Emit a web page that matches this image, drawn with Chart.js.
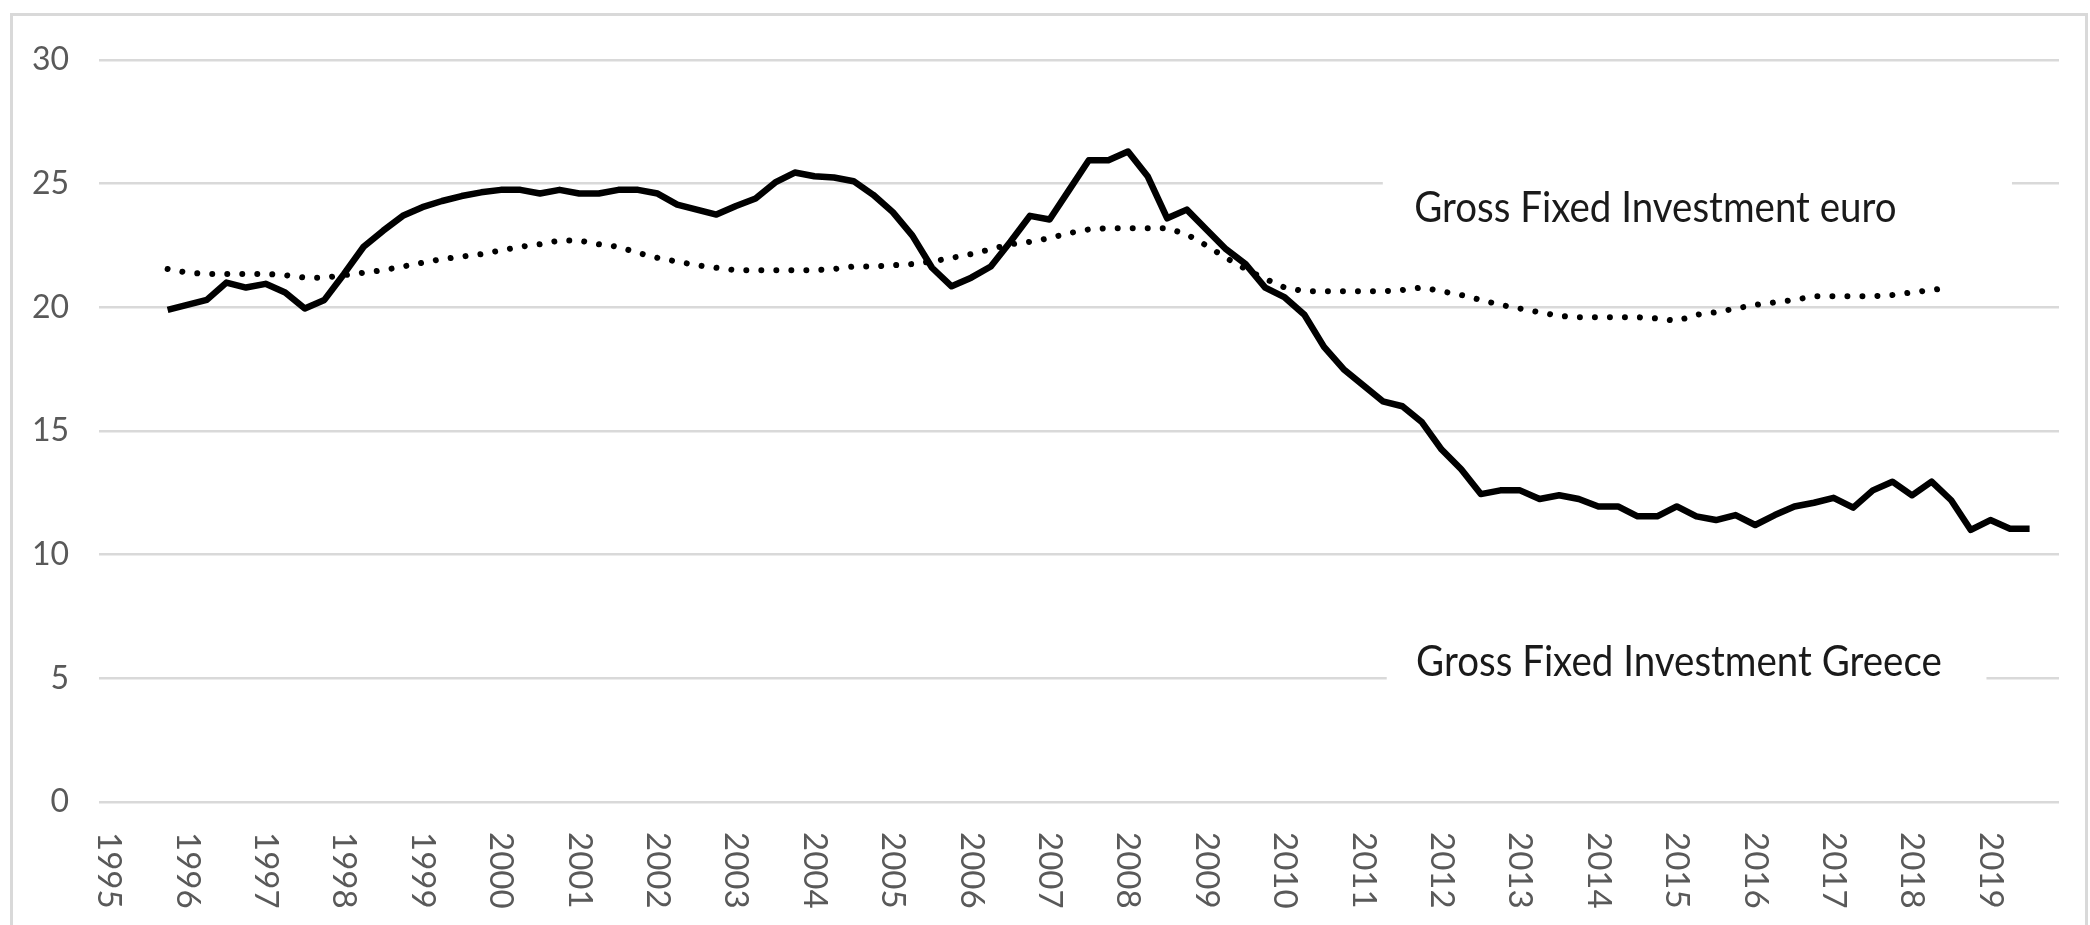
<!DOCTYPE html>
<html>
<head>
<meta charset="utf-8">
<script src="https://cdn.jsdelivr.net/npm/chart.js@4.4.1/dist/chart.umd.min.js"></script>
<style>
  html, body { margin: 0; padding: 0; background: #fff; }
  #wrap { width: 2090px; height: 925px; }
</style>
</head>
<body>
<div id="wrap"><canvas id="gfiChart" width="2090" height="925"></canvas></div>
<script>
// quarterly data, 1995 Q1 .. 2019 Q4
const years = [1995, 1996, 1997, 1998, 1999, 2000, 2001, 2002, 2003, 2004, 2005, 2006, 2007,
  2008, 2009, 2010, 2011, 2012, 2013, 2014, 2015, 2016, 2017, 2018, 2019];
const quarters = ['Q1', 'Q2', 'Q3', 'Q4'];

const greece = [
  null, null, null, 19.9,      // 1995
  20.1, 20.3, 21.0, 20.8,      // 1996
  20.95, 20.6, 19.95, 20.3,    // 1997
  21.35, 22.45, 23.1, 23.7,    // 1998
  24.05, 24.3, 24.5, 24.65,    // 1999
  24.75, 24.75, 24.6, 24.75,   // 2000
  24.6, 24.6, 24.75, 24.75,    // 2001
  24.6, 24.15, 23.95, 23.75,   // 2002
  24.1, 24.4, 25.05, 25.45,    // 2003
  25.3, 25.25, 25.1, 24.55,    // 2004
  23.85, 22.9, 21.6, 20.85,    // 2005
  21.2, 21.65, 22.65, 23.7,    // 2006
  23.55, 24.75, 25.95, 25.95,  // 2007
  26.3, 25.3, 23.6, 23.95,     // 2008
  23.15, 22.35, 21.75, 20.8,   // 2009
  20.4, 19.7, 18.4, 17.5,      // 2010
  16.85, 16.2, 16.0, 15.35,    // 2011
  14.25, 13.45, 12.45, 12.6,   // 2012
  12.6, 12.25, 12.4, 12.25,    // 2013
  11.95, 11.95, 11.55, 11.55,  // 2014
  11.95, 11.55, 11.4, 11.6,    // 2015
  11.2, 11.6, 11.95, 12.1,     // 2016
  12.3, 11.9, 12.6, 12.95,     // 2017
  12.4, 12.95, 12.2, 11.0,     // 2018
  11.4, 11.05, 11.05, null,    // 2019
];

const euro = [
  null, null, null, 21.55,     // 1995
  21.4, 21.35, 21.35, 21.35,   // 1996
  21.35, 21.3, 21.2, 21.2,     // 1997
  21.3, 21.4, 21.5, 21.65,     // 1998
  21.8, 21.95, 22.05, 22.15,   // 1999
  22.3, 22.45, 22.55, 22.7,    // 2000
  22.7, 22.55, 22.45, 22.2,    // 2001
  22.0, 21.85, 21.7, 21.6,     // 2002
  21.5, 21.5, 21.5, 21.5,      // 2003
  21.5, 21.55, 21.65, 21.65,   // 2004
  21.7, 21.75, 21.85, 22.0,    // 2005
  22.15, 22.35, 22.55, 22.65,  // 2006
  22.8, 23.0, 23.15, 23.2,     // 2007
  23.2, 23.2, 23.2, 22.95,     // 2008
  22.5, 22.0, 21.55, 21.15,    // 2009
  20.8, 20.65, 20.65, 20.65,   // 2010
  20.65, 20.65, 20.7, 20.8,    // 2011
  20.65, 20.5, 20.3, 20.1,     // 2012
  19.95, 19.8, 19.65, 19.6,    // 2013
  19.6, 19.6, 19.6, 19.55,     // 2014
  19.45, 19.7, 19.8, 19.95,    // 2015
  20.1, 20.2, 20.3, 20.45,     // 2016
  20.45, 20.45, 20.45, 20.5,   // 2017
  20.6, 20.7, 20.8, null,      // 2018
  null, null, null, null,      // 2019
];

const yMin = 0, yMax = 30, yStep = 5;

// text boxes placed in data units: q = quarter index, v = value
const notes = [
  { text: 'Gross Fixed Investment euro', q: 66.6, v: 23.45, box: [65.0, 97.1, 26.0, 22.3] },
  { text: 'Gross Fixed Investment Greece', q: 66.7, v: 5.1, box: [65.2, 95.8, 7.2, 3.9] },
];

const labels = years.flatMap((yr) => quarters.map((q) => `${yr} ${q}`));

const decor = {
  id: 'decor',
  beforeDraw(chart) {
    const ctx = chart.ctx;
    ctx.save();
    ctx.fillStyle = '#fff';
    ctx.fillRect(0, 0, chart.width, chart.height);
    ctx.strokeStyle = '#d9d9d9';
    ctx.lineWidth = 3;
    ctx.strokeRect(11.5, 14.5, 2075, 1000);
    ctx.restore();
  },
  beforeDatasetsDraw(chart) {
    const { ctx, scales: { x, y } } = chart;
    ctx.save();
    // white boxes behind the notes hide the gridlines
    ctx.fillStyle = '#fff';
    notes.forEach((n) => {
      const [q0, q1, v0, v1] = n.box;
      const x0 = x.getPixelForValue(q0), x1 = x.getPixelForValue(q1);
      const y0 = y.getPixelForValue(v0), y1 = y.getPixelForValue(v1);
      ctx.fillRect(x0, y0, x1 - x0, y1 - y0);
    });
    ctx.fillStyle = '#1a1a1a';
    ctx.font = '38.5px Lato';
    ctx.textAlign = 'left';
    ctx.textBaseline = 'alphabetic';
    notes.forEach((n) => {
      ctx.save();
      ctx.translate(x.getPixelForValue(n.q), y.getPixelForValue(n.v));
      ctx.scale(1, 1.12);
      ctx.fillText(n.text, 0, 0);
      ctx.restore();
    });

    // year labels, rotated to read top-down
    ctx.fillStyle = '#595959';
    ctx.font = '33px Lato';
    ctx.textBaseline = 'middle';
    years.forEach((yr, k) => {
      const px = x.getPixelForValue(k * 4);
      ctx.save();
      ctx.translate(px, y.bottom + 30);
      ctx.rotate(Math.PI / 2);
      ctx.fillText(String(yr), 0, 0);
      ctx.restore();
    });
    ctx.restore();
  },
};

new Chart(document.getElementById('gfiChart').getContext('2d'), {
  type: 'line',
  data: {
    labels,
    datasets: [
      {
        label: 'Gross Fixed Investment Greece',
        data: greece,
        borderColor: '#000',
        borderWidth: 6.5,
        borderJoinStyle: 'round',
        pointRadius: 0,
        tension: 0,
      },
      {
        label: 'Gross Fixed Investment euro',
        data: euro,
        borderColor: '#000',
        borderWidth: 6,
        borderDash: [0.01, 15],
        borderCapStyle: 'round',
        pointRadius: 0,
        tension: 0,
      },
    ],
  },
  options: {
    responsive: false,
    animation: false,
    devicePixelRatio: 1,
    layout: { padding: { top: 60, right: 31, left: 0, bottom: 0 } },
    plugins: { legend: { display: false }, tooltip: { enabled: false } },
    scales: {
      x: {
        offset: true,
        grid: { display: false },
        border: { display: false },
        ticks: { display: false },
        afterFit: (s) => { s.height = 123; },
      },
      y: {
        min: yMin,
        max: yMax,
        grid: { color: '#d9d9d9', lineWidth: 2.5, drawTicks: false },
        border: { display: false },
        ticks: {
          stepSize: yStep,
          padding: 30,
          color: '#595959',
          font: { family: 'Lato', size: 32 },
        },
        afterFit: (s) => { s.width = 99; },
      },
    },
  },
  plugins: [decor],
});
</script>
</body>
</html>
